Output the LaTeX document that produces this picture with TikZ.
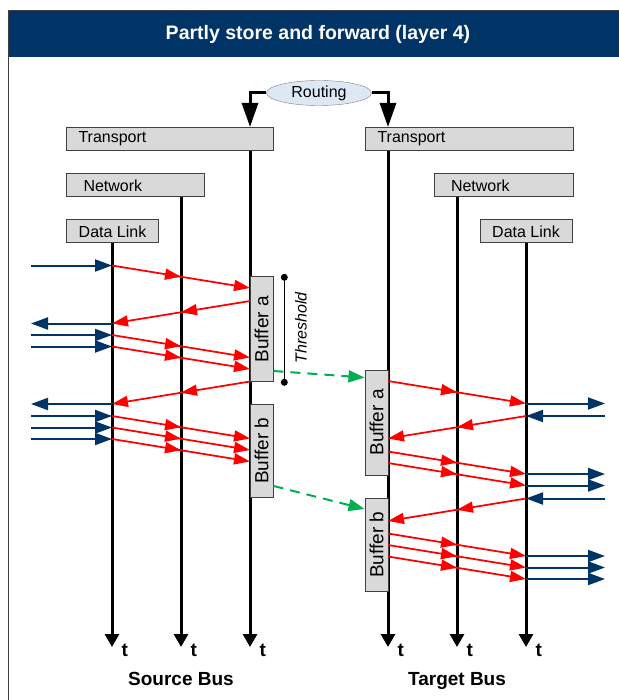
\documentclass[tikz,border=0pt]{standalone}
\usepackage{fontspec}
\setmainfont{Liberation Sans}
\usetikzlibrary{arrows.meta,calc,decorations.markings,shapes.geometric}

\definecolor{navy}{RGB}{0,51,102}
\definecolor{boxgray}{RGB}{217,217,217}
\definecolor{boxline}{RGB}{64,64,64}
\definecolor{routefill}{RGB}{222,232,245}
\definecolor{fwdgreen}{RGB}{0,176,80}

\begin{document}
\begin{tikzpicture}[x=1pt,y=-1pt,
  layer/.style={draw=boxline,line width=1pt,fill=boxgray,minimum height=23pt,inner ysep=0pt,
    anchor=north west,font=\fontsize{16}{18}\selectfont},
  buffer/.style={draw=boxline,line width=1pt,fill=boxgray,rotate=90,minimum height=23pt,inner sep=0pt,
    font=\fontsize{19}{21}\selectfont},
  axis/.style={line width=3pt,-{Triangle[length=13pt,width=14pt]}},
  route/.style={line width=3pt,-{Triangle[length=24pt,width=16pt]}},
  msg/.style={red,line width=1.75pt,-{Triangle[length=16pt,width=11pt]},postaction=decorate,
    decoration={markings,mark=at position 0.5 with {\arrow{Triangle[length=16pt,width=11pt]}}}},
  bus/.style={navy,line width=2pt,-{Triangle[length=17pt,width=12pt]}},
  fwd/.style={fwdgreen,line width=2pt,dash pattern=on 10pt off 7pt,-{Triangle[length=16pt,width=12pt]}},
  tlabel/.style={anchor=base west,inner sep=0pt,xshift=8pt,yshift=-9pt,font=\fontsize{19}{21}\selectfont\bfseries},
  buslabel/.style={anchor=base,inner sep=0pt,font=\fontsize{19}{21}\selectfont\bfseries}]

\useasboundingbox (0,0) rectangle (618,700);

% frame and title bar
\draw[boxline,line width=1pt] (8.5,11) rectangle (628,710);
\fill[navy] (8.5,11) rectangle (628,57);
\node[text=white,font=\fontsize{19.5}{22}\selectfont\bfseries] (title) at (318,34) {Partly store and forward (layer 4)};

% layers
\node[layer,text width=183pt,inner xsep=12pt,align=left] (srcT) at (66,127) {Transport};
\node[layer,text width=104pt,inner xsep=17pt,align=left] (srcN) at (66,173.5) {Network};
\node[layer,minimum width=92pt] (srcD) at (66,219.5) {Data Link};
\node[layer,text width=183pt,inner xsep=12.5pt,align=left] (tgtT) at (364.5,127) {Transport};
\node[layer,text width=105pt,inner xsep=17pt,align=left] (tgtN) at (433.5,173.5) {Network};
\node[layer,minimum width=92pt] (tgtD) at (479.5,219.5) {Data Link};

\node[ellipse,draw=gray,fill=routefill,minimum width=105pt,minimum height=25pt,inner sep=0pt,
  font=\fontsize{16}{18}\selectfont] (routing) at (319,93) {Routing};

% time axes
\coordinate (sD) at (112,647);
\coordinate (sN) at (181,647);
\coordinate (sT) at (250,647);
\coordinate (tT) at (388,647);
\coordinate (tN) at (457,647);
\coordinate (tD) at (526,647);
\coordinate (edgeL) at (31,0);
\coordinate (edgeR) at (605,0);

\draw[route] (routing.west) -| (srcT.north -| sT);
\draw[route] (routing.east) -| (tgtT.north -| tT);

\draw[axis] (srcD.south -| sD) -- (sD) node[tlabel] {t};
\draw[axis] (srcN.south -| sN) -- (sN) node[tlabel] {t};
\draw[axis] (srcT.south -| sT) -- (sT) node[tlabel] {t};
\draw[axis] (tgtT.south -| tT) -- (tT) node[tlabel] {t};
\draw[axis] (tgtN.south -| tN) -- (tN) node[tlabel] {t};
\draw[axis] (tgtD.south -| tD) -- (tD) node[tlabel] {t};

% buffers
\node[buffer,minimum width=105pt] (bufSa) at (261.5,329.3) {Buffer a};
\node[buffer,minimum width=93pt] (bufSb) at (261.5,450.7) {Buffer b};
\node[buffer,minimum width=105pt] (bufTa) at (376.5,422.5) {Buffer a};
\node[buffer,minimum width=93pt] (bufTb) at (376.5,544.7) {Buffer b};

% threshold mark
\coordinate (thrTop) at (284.3,277.3);
\coordinate (thrBot) at (284.3,382.3);
\draw[line width=1pt] (thrTop) -- (thrBot);
\fill (thrTop) circle (3.5pt);
\fill (thrBot) circle (3.5pt);
\node[rotate=90,inner sep=0pt,font=\fontsize{16}{18}\selectfont\itshape] (thrLbl) at (301,328) {Threshold};

% source bus frames
\foreach \ya/\yb in {265.5/288,335/357.5,346.5/369,416/438.5,427.5/450,439/461.5}{
  \draw[bus] (edgeL |- 0,\ya) -- (sD |- 0,\ya);
  \draw[msg] (sD |- 0,\ya) -- (sT |- 0,\yb);
}
\foreach \ya/\yb in {301/323.5,381.5/404}{
  \draw[msg] (sT |- 0,\ya) -- (sD |- 0,\yb);
  \draw[bus] (sD |- 0,\yb) -- (edgeL |- 0,\yb);
}

% target bus frames
\foreach \ya/\yb in {381/403.5,451.5/474,463/485.5,533.5/556,545/567.5,556.5/579}{
  \draw[msg] (tT |- 0,\ya) -- (tD |- 0,\yb);
  \draw[bus] (tD |- 0,\yb) -- (edgeR |- 0,\yb);
}
\foreach \ya/\yb in {416/438.5,498.5/521}{
  \draw[bus] (edgeR |- 0,\ya) -- (tD |- 0,\ya);
  \draw[msg] (tD |- 0,\ya) -- (tT |- 0,\yb);
}

% buffer hand-over
\draw[fwd] (bufSa.south |- 0,371) -- (bufTa.north |- 0,377.5);
\draw[fwd] (bufSb.south |- 0,486) -- (bufTb.north |- 0,509);

\node[buslabel] (srcBus) at (sN |- 0,685) {Source Bus};
\node[buslabel] (tgtBus) at (tN |- 0,685) {Target Bus};

\end{tikzpicture}
\end{document}
